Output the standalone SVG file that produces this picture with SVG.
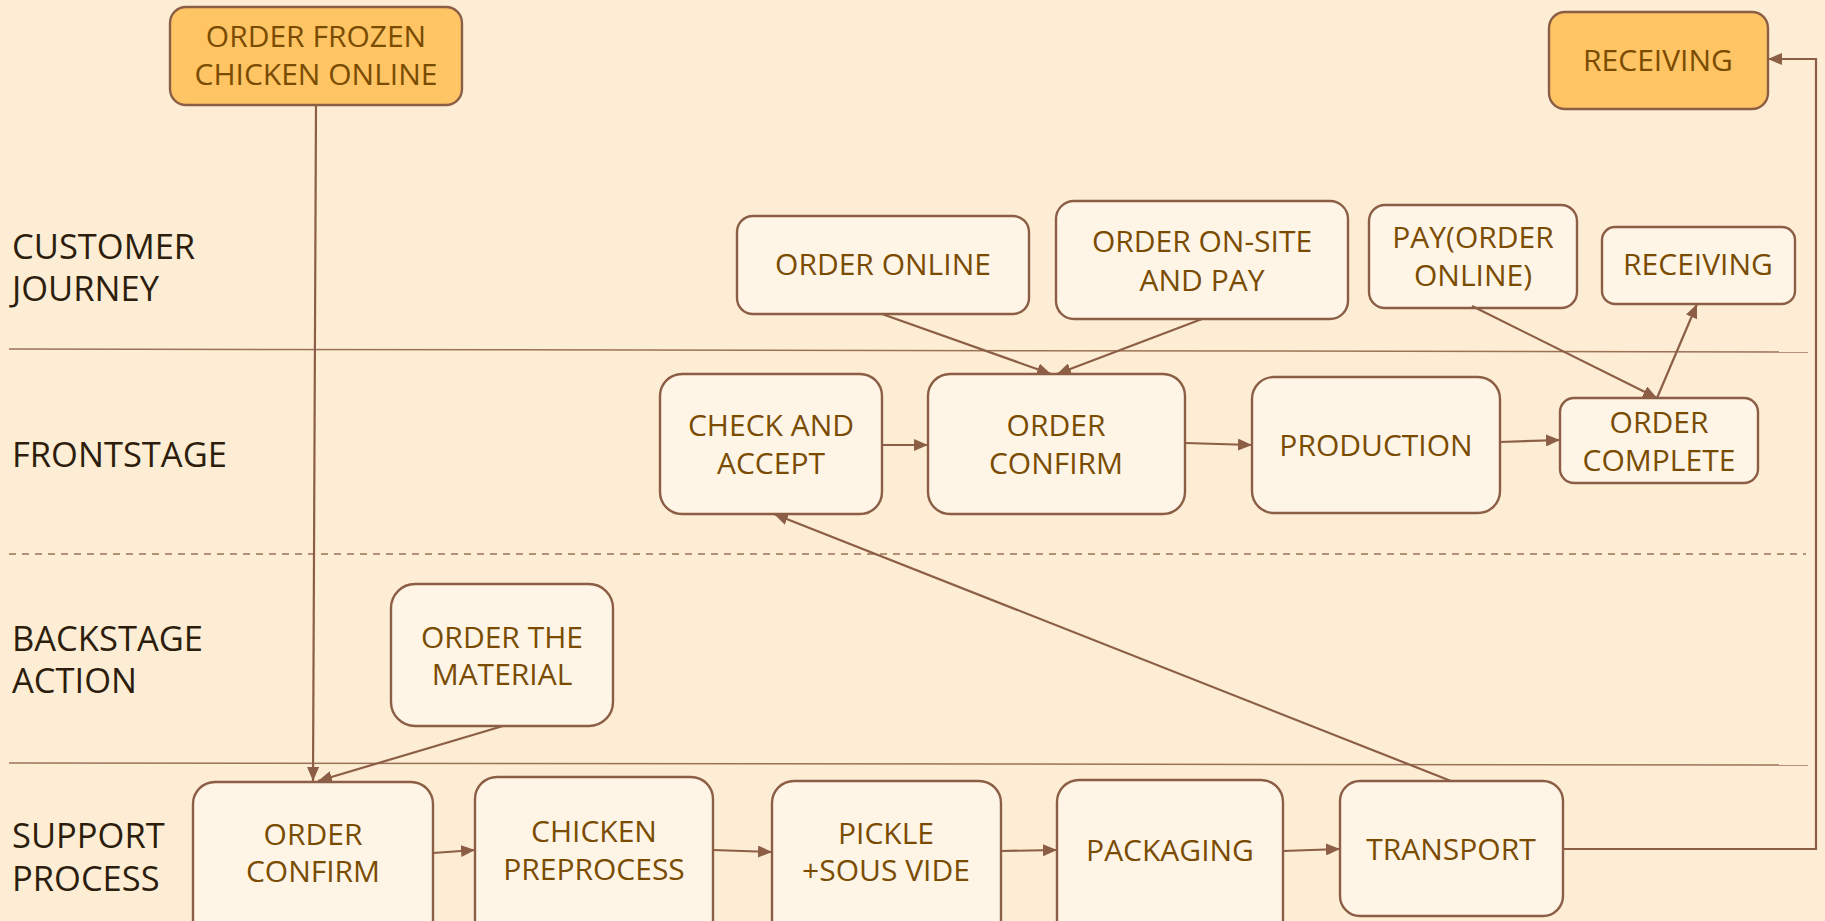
<svg xmlns="http://www.w3.org/2000/svg" width="1825" height="921" viewBox="0 0 1825 921">
<defs>
<style>
.bg{fill:#FDEDD5}
.n rect{fill:#FFF5E6;stroke:#8B5E45;stroke-width:2.4}
.n.hl rect{fill:#FFC463}
.n text{font-family:"Open Sans","Noto Sans",sans-serif;font-size:30px;fill:#7A4C02;text-anchor:middle}
.lane{font-family:"Open Sans","Noto Sans",sans-serif;font-size:34.5px;fill:#2D1D0C}
.sep{stroke:#9C7257;stroke-width:1.5;fill:none}
.c line,.c polyline{stroke:#8B5E45;stroke-width:2.2;fill:none;marker-end:url(#ah)}
</style>
<marker id="ah" viewBox="0 0 14 12" refX="14" refY="6" markerWidth="14" markerHeight="12" markerUnits="userSpaceOnUse" orient="auto">
<path d="M0,0 L14,6 L0,12 z" fill="#8B5E45"/>
</marker>
</defs>
<rect class="bg" x="0" y="0" width="1825" height="921"/>
<g id="lanes">
<line class="sep" x1="9" y1="349" x2="1808" y2="352"/>
<line class="sep" x1="9" y1="554" x2="1806" y2="554" stroke-dasharray="7,6"/>
<line class="sep" x1="9" y1="763" x2="1808" y2="765"/>
<text class="lane" x="12"><tspan x="12" y="259">CUSTOMER</tspan><tspan x="12" y="301">JOURNEY</tspan></text>
<text class="lane" x="12" y="467">FRONTSTAGE</text>
<text class="lane" x="12"><tspan x="12" y="651">BACKSTAGE</tspan><tspan x="12" y="693">ACTION</tspan></text>
<text class="lane" x="12"><tspan x="12" y="848">SUPPORT</tspan><tspan x="12" y="891">PROCESS</tspan></text>
</g>
<g id="n-frozen" class="n hl"><rect x="170" y="7" width="292" height="98" rx="16"/><text><tspan x="316" y="47">ORDER FROZEN</tspan><tspan x="316" y="85">CHICKEN ONLINE</tspan></text></g>
<g id="n-receiving-top" class="n hl"><rect x="1549" y="12" width="219" height="97" rx="16"/><text x="1658" y="71">RECEIVING</text></g>
<g id="n-order-online" class="n"><rect x="737" y="216" width="292" height="98" rx="16"/><text x="883" y="275">ORDER ONLINE</text></g>
<g id="n-onsite" class="n"><rect x="1056" y="201" width="292" height="118" rx="18"/><text><tspan x="1202" y="252">ORDER ON-SITE</tspan><tspan x="1202" y="291">AND PAY</tspan></text></g>
<g id="n-pay" class="n"><rect x="1369" y="205" width="208" height="103" rx="16"/><text><tspan x="1473" y="248">PAY(ORDER</tspan><tspan x="1473" y="286">ONLINE)</tspan></text></g>
<g id="n-receiving" class="n"><rect x="1602" y="227" width="193" height="77" rx="13"/><text x="1698" y="275">RECEIVING</text></g>
<g id="n-check" class="n"><rect x="660" y="374" width="222" height="140" rx="22"/><text><tspan x="771" y="436">CHECK AND</tspan><tspan x="771" y="474">ACCEPT</tspan></text></g>
<g id="n-confirm-front" class="n"><rect x="928" y="374" width="257" height="140" rx="22"/><text><tspan x="1056" y="436">ORDER</tspan><tspan x="1056" y="474">CONFIRM</tspan></text></g>
<g id="n-production" class="n"><rect x="1252" y="377" width="248" height="136" rx="22"/><text x="1376" y="456">PRODUCTION</text></g>
<g id="n-complete" class="n"><rect x="1560" y="398" width="198" height="85" rx="14"/><text><tspan x="1659" y="433">ORDER</tspan><tspan x="1659" y="471">COMPLETE</tspan></text></g>
<g id="n-material" class="n"><rect x="391" y="584" width="222" height="142" rx="24"/><text><tspan x="502" y="648">ORDER THE</tspan><tspan x="502" y="685">MATERIAL</tspan></text></g>
<g id="n-confirm-support" class="n"><rect x="193" y="782" width="240" height="160" rx="22"/><text><tspan x="313" y="845">ORDER</tspan><tspan x="313" y="882">CONFIRM</tspan></text></g>
<g id="n-preprocess" class="n"><rect x="475" y="777" width="238" height="165" rx="22"/><text><tspan x="594" y="842">CHICKEN</tspan><tspan x="594" y="880">PREPROCESS</tspan></text></g>
<g id="n-pickle" class="n"><rect x="772" y="781" width="229" height="161" rx="22"/><text><tspan x="886" y="844">PICKLE</tspan><tspan x="886" y="881">+SOUS VIDE</tspan></text></g>
<g id="n-packaging" class="n"><rect x="1057" y="780" width="226" height="162" rx="22"/><text x="1170" y="861">PACKAGING</text></g>
<g id="n-transport" class="n"><rect x="1340" y="781" width="223" height="135" rx="20"/><text x="1451" y="860">TRANSPORT</text></g>
<g id="connectors" class="c">
<line x1="316" y1="105" x2="313" y2="781"/>
<line x1="503" y1="726" x2="318" y2="781"/>
<line x1="882" y1="314" x2="1051" y2="374"/>
<line x1="1202" y1="319" x2="1057" y2="374"/>
<line x1="882" y1="445" x2="928" y2="445"/>
<line x1="1185" y1="443" x2="1252" y2="445"/>
<line x1="1500" y1="442" x2="1560" y2="440"/>
<line x1="1472" y1="306" x2="1657" y2="398"/>
<line x1="1657" y1="398" x2="1697" y2="304"/>
<line x1="1451" y1="781" x2="774" y2="514"/>
<polyline points="1563,849 1816,849 1816,59 1768,59"/>
<line x1="433" y1="853" x2="475" y2="850"/>
<line x1="713" y1="850" x2="772" y2="852"/>
<line x1="1001" y1="851" x2="1057" y2="850"/>
<line x1="1283" y1="851" x2="1340" y2="849"/>
</g>
</svg>
